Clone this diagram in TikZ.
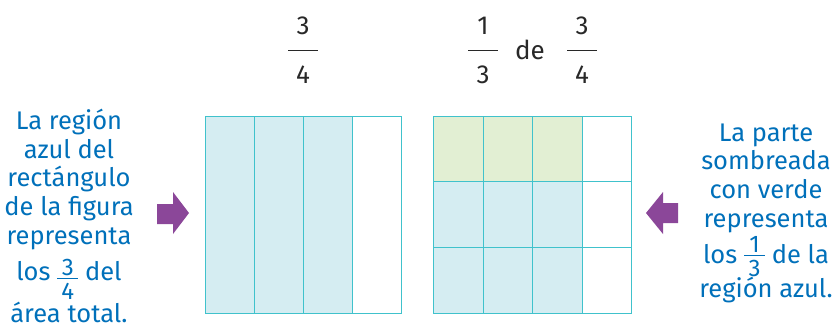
\documentclass[tikz,border=0pt]{standalone}
\usepackage{fontspec}
\setmainfont{Fira Sans}
\usetikzlibrary{calc,positioning}
\definecolor{azultexto}{RGB}{0,112,186}
\definecolor{celdaazul}{RGB}{213,237,242}
\definecolor{celdaverde}{RGB}{226,239,211}
\definecolor{borde}{RGB}{64,194,204}
\definecolor{morado}{RGB}{139,71,153}
\definecolor{tinta}{RGB}{40,40,40}
% fraccion pequena dentro del texto
\newcommand{\fracchica}[3][19pt]{\smash{\raisebox{-#1}{\fontsize{24}{24}\selectfont\vbox{%
  \hbox to 21pt{\hss#2\hss}\kern2.5pt\hrule height 1.4pt\kern3.5pt\hbox to 21pt{\hss#3\hss}}}}}

\begin{document}
\begin{tikzpicture}[x=1pt,y=-1pt,
          nota/.style={text=azultexto, font=\fontsize{25.5}{28.8}\selectfont, align=center, inner sep=0pt},
          cifra/.style={text=tinta, font=\fontsize{26}{30}\selectfont, inner sep=0pt},
          barra/.style={draw=tinta, line width=1.3pt},
          rejilla/.style={draw=borde, line width=1pt},
          flechita/.style={fill=morado},
        ]
        \useasboundingbox (0,0) rectangle (832,333);
        % fracciones de arriba
        \node[cifra] (n1) at (303,26) {3};
        \node[cifra] (d1) at (303,75) {4};
        \draw[barra] ($(n1)!0.5!(d1)$) ++(-15,0) -- ++(30,0);
        \node[cifra] (n2) at (483,26) {1};
        \node[cifra] (d2) at (483,75) {3};
        \draw[barra] ($(n2)!0.5!(d2)$) ++(-15,0) -- ++(30,0);
        \node[cifra] (de) at (530,50) {de};
        \node[cifra] (n3) at (582,26) {3};
        \node[cifra] (d3) at (582,75) {4};
        \draw[barra] ($(n3)!0.5!(d3)$) ++(-15,0) -- ++(30,0);
        % rectangulo de la izquierda
        \fill[celdaazul] (205,116) rectangle (352,313);
        \draw[rejilla] (205,116) rectangle (401,313);
        \foreach \x in {254,303,352}
          \draw[rejilla] (\x,116) -- (\x,313);
        % rectangulo de la derecha
        \fill[celdaazul] (433,116) rectangle (582,313);
        \fill[celdaverde] (433,116) rectangle (582,181);
        \draw[rejilla] (433,116) rectangle (631,313);
        \foreach \x in {483,532,582}
          \draw[rejilla] (\x,116) -- (\x,313);
        \foreach \y in {181,247}
          \draw[rejilla] (433,\y) -- (631,\y);
        % flechas
        \fill[flechita] (157,204) -- (173,204) -- (173,192) -- (189,213)
          -- (173,234) -- (173,224) -- (157,224) -- cycle;
        \fill[flechita] (678,203) -- (663,203) -- (663,192) -- (646,213)
          -- (663,234) -- (663,223) -- (678,223) -- cycle;
        % textos
        \node[nota, anchor=base] (izq) at (69,322) {La región\\azul del\\rectángulo\\de la figura\\representa\\[7pt]los \fracchica{3}{4} del\\[13pt]área total.};
        \node[nota, anchor=base] (der) at (766,297) {La parte\\sombreada\\con verde\\representa\\[7pt]los \fracchica[13pt]{1}{3} de la\\[5pt]región azul.};
      \end{tikzpicture}
\end{document}
